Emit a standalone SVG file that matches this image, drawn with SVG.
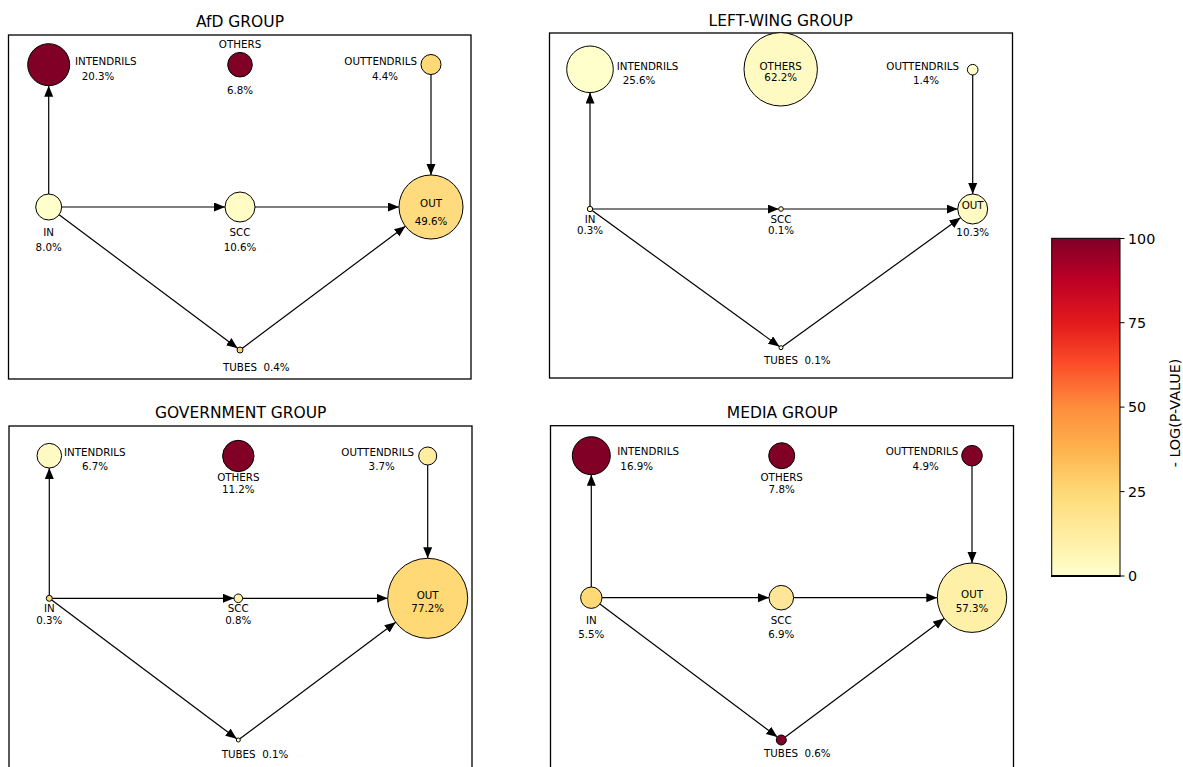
<svg xmlns="http://www.w3.org/2000/svg" width="1183" height="767" viewBox="0 0 1183 767">
<defs>
<marker id="ah" markerUnits="userSpaceOnUse" markerWidth="12" markerHeight="10" refX="11" refY="4.5" orient="auto">
<path d="M0,0 L11,4.5 L0,9 z" fill="#000"/>
</marker>
<linearGradient id="ylorrd" x1="0" y1="1" x2="0" y2="0">
<stop offset="0" stop-color="#ffffcc"/>
<stop offset="0.125" stop-color="#ffeda0"/>
<stop offset="0.25" stop-color="#fed976"/>
<stop offset="0.375" stop-color="#feb24c"/>
<stop offset="0.5" stop-color="#fd8d3c"/>
<stop offset="0.625" stop-color="#fc4e2a"/>
<stop offset="0.75" stop-color="#e31a1c"/>
<stop offset="0.875" stop-color="#bd0026"/>
<stop offset="1" stop-color="#800026"/>
</linearGradient>
</defs>
<style>
text{font-family:"DejaVu Sans","Liberation Sans",sans-serif;fill:#000}
.t{font-size:15.5px;text-anchor:middle}
.l{font-size:10.3px}
.c{text-anchor:middle}
.e{text-anchor:end}
.p{white-space:pre}
.n{stroke:#000;stroke-width:1}
.frame{fill:none;stroke:#000;stroke-width:1.3}
.ed line{stroke:#000;stroke-width:1.2;marker-end:url(#ah)}
.cb{font-size:14.3px}
</style>
<rect width="1183" height="767" fill="#fff"/>

<g id="panel-afd">
<rect class="frame" x="8.5" y="35" width="462.5" height="344"/>
<text class="t" x="240" y="27.3">AfD GROUP</text>
</g>
<g id="panel-left">
<rect class="frame" x="549.5" y="33" width="463" height="345"/>
<text class="t" x="780.7" y="25.6">LEFT-WING GROUP</text>
</g>
<g id="panel-gov">
<rect class="frame" x="9" y="426" width="463" height="360"/>
<text class="t" x="240.7" y="418.3">GOVERNMENT GROUP</text>
</g>
<g id="panel-media">
<rect class="frame" x="550.5" y="425.7" width="463" height="360"/>
<text class="t" x="782.3" y="418">MEDIA GROUP</text>
</g>

<g id="connectors" class="ed">
<line x1="48.7" y1="194" x2="48.7" y2="85.7"/>
<line x1="61.7" y1="207" x2="225" y2="207"/>
<line x1="255" y1="207" x2="399" y2="207"/>
<line x1="431" y1="74.5" x2="431" y2="175"/>
<line x1="59.1" y1="214.8" x2="237.6" y2="348.2"/>
<line x1="242.4" y1="348.2" x2="405.4" y2="226.2"/>
<line x1="590" y1="206.3" x2="590" y2="92.6"/>
<line x1="592.7" y1="209" x2="778.7" y2="209"/>
<line x1="783.3" y1="209" x2="957.7" y2="209"/>
<line x1="972.7" y1="75" x2="972.7" y2="194"/>
<line x1="592.2" y1="210.6" x2="779.4" y2="346.5"/>
<line x1="782.6" y1="346.5" x2="960.5" y2="217.8"/>
<line x1="49.3" y1="595.3" x2="49.3" y2="468"/>
<line x1="52.3" y1="598.3" x2="234" y2="598.3"/>
<line x1="242.6" y1="598.3" x2="387.7" y2="598.3"/>
<line x1="427.7" y1="465" x2="427.7" y2="558.3"/>
<line x1="51.7" y1="600.1" x2="236.7" y2="738.8"/>
<line x1="239.9" y1="738.8" x2="395.7" y2="622.3"/>
<line x1="591.3" y1="587" x2="591.3" y2="474.7"/>
<line x1="602" y1="597.7" x2="769" y2="597.7"/>
<line x1="793.6" y1="597.7" x2="937.3" y2="597.7"/>
<line x1="972" y1="466" x2="972" y2="563"/>
<line x1="599.9" y1="604.1" x2="777.3" y2="737"/>
<line x1="785.3" y1="737" x2="944.2" y2="618.5"/>
</g>

<g id="afd-intendrils"><circle class="n" cx="48.7" cy="64.7" r="21" fill="#800026"/><text class="l" x="75" y="65">INTENDRILS</text><text class="l c" x="98" y="80">20.3%</text></g>
<g id="afd-others"><circle class="n" cx="240" cy="64.7" r="12.3" fill="#800026"/><text class="l c" x="240" y="48">OTHERS</text><text class="l c" x="240" y="94">6.8%</text></g>
<g id="afd-outtendrils"><circle class="n" cx="431" cy="64.5" r="10" fill="#fed976"/><text class="l e" x="417" y="65">OUTTENDRILS</text><text class="l c" x="385" y="80">4.4%</text></g>
<g id="afd-in"><circle class="n" cx="48.7" cy="207" r="13" fill="#ffffcc"/><text class="l c" x="48.7" y="235.5">IN</text><text class="l c" x="48.7" y="250.5">8.0%</text></g>
<g id="afd-scc"><circle class="n" cx="240" cy="207" r="15" fill="#fffcc6"/><text class="l c" x="240" y="235.5">SCC</text><text class="l c" x="240" y="250.5">10.6%</text></g>
<g id="afd-out"><circle class="n" cx="431" cy="207" r="32" fill="#fedb7e"/><text class="l c" x="431" y="207">OUT</text><text class="l c" x="431" y="224.5">49.6%</text></g>
<g id="afd-tubes"><circle class="n" cx="240" cy="350" r="3" fill="#fed46e"/><text class="l p" x="223" y="370.5">TUBES  0.4%</text></g>

<g id="lw-intendrils"><circle class="n" cx="590" cy="69.3" r="23.3" fill="#ffffcc"/><text class="l" x="616.7" y="69.7">INTENDRILS</text><text class="l c" x="639" y="83.7">25.6%</text></g>
<g id="lw-others"><circle class="n" cx="780.7" cy="69.3" r="36.7" fill="#fffac2"/><text class="l c" x="780.7" y="69.7">OTHERS</text><text class="l c" x="780.7" y="81">62.2%</text></g>
<g id="lw-outtendrils"><circle class="n" cx="972.7" cy="69.7" r="5.3" fill="#ffffcc"/><text class="l e" x="959" y="69.7">OUTTENDRILS</text><text class="l c" x="926" y="83.7">1.4%</text></g>
<g id="lw-in"><circle class="n" cx="590" cy="209" r="2.7" fill="#ffffcc"/><text class="l c" x="590" y="222.7">IN</text><text class="l c" x="590" y="233.7">0.3%</text></g>
<g id="lw-scc"><circle class="n" cx="781" cy="209" r="2.3" fill="#ffffcc"/><text class="l c" x="781" y="222.7">SCC</text><text class="l c" x="781" y="233.7">0.1%</text></g>
<g id="lw-out"><circle class="n" cx="972.7" cy="209" r="15" fill="#fffac2"/><text class="l c" x="972.7" y="209">OUT</text><text class="l c" x="972.7" y="236.4">10.3%</text></g>
<g id="lw-tubes"><circle class="n" cx="781" cy="347.7" r="2" fill="#ffffcc"/><text class="l p" x="764" y="364.4">TUBES  0.1%</text></g>

<g id="gov-intendrils"><circle class="n" cx="49.3" cy="455.7" r="12.3" fill="#fffac4"/><text class="l" x="64" y="455.7">INTENDRILS</text><text class="l c" x="95" y="470.4">6.7%</text></g>
<g id="gov-others"><circle class="n" cx="238.3" cy="456" r="15.7" fill="#800026"/><text class="l c" x="238.3" y="481.4">OTHERS</text><text class="l c" x="238.3" y="493">11.2%</text></g>
<g id="gov-outtendrils"><circle class="n" cx="427.7" cy="456" r="9" fill="#ffeda0"/><text class="l e" x="414" y="455.7">OUTTENDRILS</text><text class="l c" x="381.7" y="470.4">3.7%</text></g>
<g id="gov-in"><circle class="n" cx="49.3" cy="598.3" r="3" fill="#fed976"/><text class="l c" x="49.3" y="612.4">IN</text><text class="l c" x="49.3" y="624">0.3%</text></g>
<g id="gov-scc"><circle class="n" cx="238.3" cy="598.3" r="4.3" fill="#fff2ae"/><text class="l c" x="238.3" y="612.4">SCC</text><text class="l c" x="238.3" y="624">0.8%</text></g>
<g id="gov-out"><circle class="n" cx="427.7" cy="598.3" r="40" fill="#fed976"/><text class="l c" x="427.7" y="598.7">OUT</text><text class="l c" x="427.7" y="612">77.2%</text></g>
<g id="gov-tubes"><circle class="n" cx="238.3" cy="740" r="2" fill="#ffffcc"/><text class="l p" x="221.7" y="757.7">TUBES  0.1%</text></g>

<g id="med-intendrils"><circle class="n" cx="591.3" cy="455.7" r="19" fill="#800026"/><text class="l" x="617.3" y="455.4">INTENDRILS</text><text class="l c" x="636.7" y="469.7">16.9%</text></g>
<g id="med-others"><circle class="n" cx="781.7" cy="455.7" r="13" fill="#800026"/><text class="l c" x="781.7" y="481">OTHERS</text><text class="l c" x="781.7" y="492.7">7.8%</text></g>
<g id="med-outtendrils"><circle class="n" cx="972" cy="455.7" r="10.3" fill="#800026"/><text class="l e" x="958.3" y="455.4">OUTTENDRILS</text><text class="l c" x="925.7" y="469.7">4.9%</text></g>
<g id="med-in"><circle class="n" cx="591.3" cy="597.7" r="10.7" fill="#fed976"/><text class="l c" x="591.3" y="624">IN</text><text class="l c" x="591.3" y="637.7">5.5%</text></g>
<g id="med-scc"><circle class="n" cx="781.3" cy="597.7" r="12.3" fill="#fee699"/><text class="l c" x="781.3" y="624">SCC</text><text class="l c" x="781.3" y="637.7">6.9%</text></g>
<g id="med-out"><circle class="n" cx="972" cy="597.7" r="34.7" fill="#fff0a8"/><text class="l c" x="972" y="598">OUT</text><text class="l c" x="972" y="612">57.3%</text></g>
<g id="med-tubes"><circle class="n" cx="781.3" cy="740" r="5" fill="#800026"/><text class="l p" x="764" y="757.4">TUBES  0.6%</text></g>

<g id="colorbar">
<rect x="1051.7" y="238.3" width="68.3" height="337.7" fill="url(#ylorrd)" stroke="#000" stroke-width="1"/>
<line x1="1051" y1="576" x2="1120.5" y2="576" stroke="#000" stroke-width="2"/>
<g stroke="#000" stroke-width="1">
<line x1="1120" y1="238.5" x2="1124.5" y2="238.5"/>
<line x1="1120" y1="322.7" x2="1124.5" y2="322.7"/>
<line x1="1120" y1="407.1" x2="1124.5" y2="407.1"/>
<line x1="1120" y1="491.6" x2="1124.5" y2="491.6"/>
<line x1="1120" y1="576" x2="1124.5" y2="576"/>
</g>
<text class="cb" x="1128" y="243.7">100</text>
<text class="cb" x="1128" y="327.9">75</text>
<text class="cb" x="1128" y="412.3">50</text>
<text class="cb" x="1128" y="496.8">25</text>
<text class="cb" x="1128" y="581.2">0</text>
<text class="cb" text-anchor="middle" transform="translate(1180,413) rotate(-90)">- LOG(P-VALUE)</text>
</g>
</svg>
